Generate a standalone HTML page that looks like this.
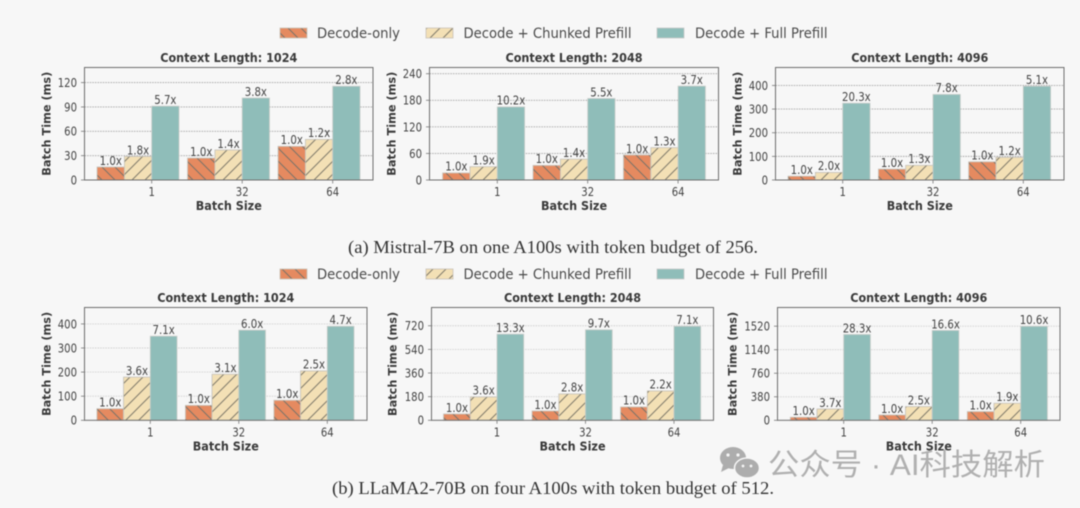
<!DOCTYPE html>
<html lang="en">
<head>
<meta charset="utf-8">
<title>Batch time charts</title>
<style>
html,body{margin:0;padding:0;background:#f7f7f7;width:1080px;height:508px;overflow:hidden}
svg{display:block;filter:blur(.45px)}
text{font-family:"DejaVu Sans","Liberation Sans",sans-serif;fill:#444}
.tick{font-size:12px}
.val{font-size:12px}
.axis{font-size:12.2px;font-weight:bold;fill:#3a3a3a}
.ytitle{font-size:11.3px;font-weight:bold;fill:#3a3a3a}
.title{font-size:12px;font-weight:bold;fill:#3a3a3a}
.leg{font-size:14px;fill:#4a4a4a}
.cap{font-family:"Liberation Serif",serif;font-size:17.5px;fill:#333}
.wm{font-family:"Liberation Sans","Noto Sans CJK SC",sans-serif;font-size:30px;fill:#b0b0b0}
</style>
</head>
<body>
<svg id="fig" xmlns="http://www.w3.org/2000/svg" width="1080" height="508" viewBox="0 0 1080 508">
<defs>
<pattern id="hatch-back" patternUnits="userSpaceOnUse" width="13" height="13">
<path d="M-2 -2L15 15M-2 11L2 15M11 -2L15 2" stroke="#7f7468" stroke-width="1.1" fill="none"/>
</pattern>
<pattern id="hatch-fwd" patternUnits="userSpaceOnUse" width="13" height="13">
<path d="M-2 15L15 -2M-2 2L2 -2M11 15L15 11" stroke="#85806f" stroke-width="1.1" fill="none"/>
</pattern>
</defs>
<rect width="1080" height="508" fill="#f7f7f7"/>
<g id="panels"></g>

<g>
<g><rect x="280" y="28" width="27" height="10" fill="#e58a60"/><rect x="280" y="28" width="27" height="10" fill="url(#hatch-back)" stroke="#c9c2b8" stroke-width=".8"/><text class="leg" x="317" y="38" textLength="83" lengthAdjust="spacingAndGlyphs">Decode-only</text></g>
<g><rect x="426" y="28" width="27" height="10" fill="#f3e0b5"/><rect x="426" y="28" width="27" height="10" fill="url(#hatch-fwd)" stroke="#c9c2b8" stroke-width=".8"/><text class="leg" x="463.5" y="38" textLength="168" lengthAdjust="spacingAndGlyphs">Decode + Chunked Prefill</text></g>
<g><rect x="657" y="28" width="27" height="10" fill="#8fbdb9" stroke="#c9c9c9" stroke-width=".8"/><text class="leg" x="695" y="38" textLength="132.5" lengthAdjust="spacingAndGlyphs">Decode + Full Prefill</text></g>
</g>
<g>
<g><rect x="280" y="269" width="27" height="10" fill="#e58a60"/><rect x="280" y="269" width="27" height="10" fill="url(#hatch-back)" stroke="#c9c2b8" stroke-width=".8"/><text class="leg" x="317" y="279" textLength="83" lengthAdjust="spacingAndGlyphs">Decode-only</text></g>
<g><rect x="426" y="269" width="27" height="10" fill="#f3e0b5"/><rect x="426" y="269" width="27" height="10" fill="url(#hatch-fwd)" stroke="#c9c2b8" stroke-width=".8"/><text class="leg" x="463.5" y="279" textLength="168" lengthAdjust="spacingAndGlyphs">Decode + Chunked Prefill</text></g>
<g><rect x="657" y="269" width="27" height="10" fill="#8fbdb9" stroke="#c9c9c9" stroke-width=".8"/><text class="leg" x="695" y="279" textLength="132.5" lengthAdjust="spacingAndGlyphs">Decode + Full Prefill</text></g>
</g>

<text class="cap" x="348" y="253" textLength="410" lengthAdjust="spacingAndGlyphs">(a) Mistral-7B on one A100s with token budget of 256.</text>
<text class="cap" x="332" y="494" textLength="442" lengthAdjust="spacingAndGlyphs">(b) LLaMA2-70B on four A100s with token budget of 512.</text>

<g>
<g>
<ellipse cx="733" cy="458" rx="13" ry="11" fill="#adadad"/>
<path d="M723 465l-2 7 8-4z" fill="#adadad"/>
<ellipse cx="747" cy="468" rx="12.5" ry="10" fill="#adadad" stroke="#f7f7f7" stroke-width="1.5"/>
<circle cx="728" cy="455" r="1.6" fill="#f7f7f7"/><circle cx="738" cy="455" r="1.6" fill="#f7f7f7"/>
<circle cx="743" cy="466" r="1.4" fill="#f7f7f7"/><circle cx="751" cy="466" r="1.4" fill="#f7f7f7"/>
</g>
<text class="wm" x="768" y="475" textLength="277" lengthAdjust="spacingAndGlyphs">公众号 · AI科技解析</text>
</g>
</svg>

<script>
const categories = ["1", "32", "64"];

const a1Decode = [16, 27, 41.5];
const a1Chunked = [29, 37, 50];
const a1Full = [91, 101, 115.5];
const a1Ticks = [0, 30, 60, 90, 120];
const a1Top = 138.6;
const a1Labels = [["1.0x","1.0x","1.0x"],["1.8x","1.4x","1.2x"],["5.7x","3.8x","2.8x"]];

const a2Decode = [16, 33, 56.5];
const a2Chunked = [30, 47, 73];
const a2Full = [165, 184, 212];
const a2Ticks = [0, 60, 120, 180, 240];
const a2Top = 254;
const a2Labels = [["1.0x","1.0x","1.0x"],["1.9x","1.4x","1.3x"],["10.2x","5.5x","3.7x"]];

const a3Decode = [16, 46, 77];
const a3Chunked = [32, 62, 96];
const a3Full = [325, 362, 397];
const a3Ticks = [0, 100, 200, 300, 400];
const a3Top = 476;
const a3Labels = [["1.0x","1.0x","1.0x"],["2.0x","1.3x","1.2x"],["20.3x","7.8x","5.1x"]];

const b1Decode = [48, 62, 83];
const b1Chunked = [179, 191, 205];
const b1Full = [349, 374, 390];
const b1Ticks = [0, 100, 200, 300, 400];
const b1Top = 468;
const b1Labels = [["1.0x","1.0x","1.0x"],["3.6x","3.1x","2.5x"],["7.1x","6.0x","4.7x"]];

const b2Decode = [48, 71, 102];
const b2Chunked = [178, 201, 224];
const b2Full = [656, 689, 716];
const b2Ticks = [0, 180, 360, 540, 720];
const b2Top = 859;
const b2Labels = [["1.0x","1.0x","1.0x"],["3.6x","2.8x","2.2x"],["13.3x","9.7x","7.1x"]];

const b3Decode = [49, 86, 140];
const b3Chunked = [183, 221, 275];
const b3Full = [1386, 1451, 1518];
const b3Ticks = [0, 380, 760, 1140, 1520];
const b3Top = 1822;
const b3Labels = [["1.0x","1.0x","1.0x"],["3.7x","2.5x","1.9x"],["28.3x","16.6x","10.6x"]];

const NS = "http://www.w3.org/2000/svg";
const root = document.getElementById("panels");

function node(tag, attrs, parent, txt) {
  const n = document.createElementNS(NS, tag);
  for (const k in attrs) n.setAttribute(k, attrs[k]);
  if (txt !== undefined) n.textContent = txt;
  parent.appendChild(n);
  return n;
}

/* text narrowed horizontally, matching the squeezed glyphs of the source figure */
function squeezed(cls, x, y, anchor, sx, parent, txt) {
  return node("text", {class:cls, "text-anchor":anchor, transform:"translate("+x+" "+y+") scale("+sx+" 1)"}, parent, txt);
}

function drawPanel(id, title, box, ticks, top, series, labels) {
  const g = node("g", {}, root);
  
  

  const yScale = v => box.bottom - (v / top) * (box.bottom - box.top);
  const xScale = i => box.first + i * box.step;
  const w = box.bar;

  const t = squeezed("title", (box.left+box.right)/2, box.top-5.5, "middle", .935, g, title);
  
  

  ticks.forEach(v => {
    const y = yScale(v);
    if (v !== 0) {
      const gl = node("line", {x1:box.left, x2:box.right, y1:y, y2:y, stroke:box.grid, "stroke-width":.9, "stroke-dasharray":"1.6 1"}, g);
      
      
    }
    const ym = node("line", {x1:box.left-3.5, x2:box.left, y1:y, y2:y, stroke:"#777", "stroke-width":.8}, g);
    
    
    const tl = squeezed("tick", box.left-7.5, y+4.4, "end", .84, g, String(v));
    
    
  });

  const fills = ["#e58a60", "#f3e0b5", "#8fbdb9"];
  const hatches = ["url(#hatch-back)", "url(#hatch-fwd)", null];
  const names = ["decode-only", "chunked-prefill", "full-prefill"];

  series.forEach((vals, s) => {
    vals.forEach((v, i) => {
      const x = xScale(i) + (s - 2) * w;
      const y = yScale(v);
      const h = box.bottom - y;
      const bar = node("rect", {x:x, y:y, width:w, height:h, fill:fills[s], stroke:"#c9ccc9", "stroke-width":.8}, g);
      
      
      if (hatches[s]) {
        const hb = node("rect", {x:x, y:y, width:w, height:h, fill:hatches[s], stroke:"#c9c2b8", "stroke-width":.6}, g);
        
        
      }
      const lab = squeezed("val", x+w/2, y-2.2, "middle", .85, g, labels[s][i]);
      
      
    });
  });

  const frame = node("rect", {x:box.left, y:box.top, width:box.right-box.left, height:box.bottom-box.top, fill:"none", stroke:"#6e6e6e", "stroke-width":1}, g);
  
  

  categories.forEach((c, i) => {
    const x = xScale(i);
    const tm = node("line", {x1:x, x2:x, y1:box.bottom, y2:box.bottom+3.5, stroke:"#777", "stroke-width":.8}, g);
    
    
    const tl = squeezed("tick", x, box.bottom+16, "middle", .84, g, c);
    
    
  });

  const xt = squeezed("axis", (box.left+box.right)/2, box.bottom+30, "middle", .92, g, "Batch Size");
  
  

  const cy = (box.top + box.bottom) / 2;
  const yt = node("text", {class:"ytitle", x:box.ylab, y:cy, "text-anchor":"middle", transform:"rotate(-90 "+box.ylab+" "+cy+")"}, g, "Batch Time (ms)");
  
  
}

drawPanel("a-1024", "Context Length: 1024",
  {left:84.5, right:373, top:67.5, bottom:180, first:151.7, step:90.5, bar:27.3, ylab:50.5, grid:"#a8a8a8"},
  a1Ticks, a1Top, [a1Decode, a1Chunked, a1Full], a1Labels);
drawPanel("a-2048", "Context Length: 2048",
  {left:429.5, right:718.5, top:67.5, bottom:180, first:497.3, step:90.4, bar:27.3, ylab:395.5, grid:"#a8a8a8"},
  a2Ticks, a2Top, [a2Decode, a2Chunked, a2Full], a2Labels);
drawPanel("a-4096", "Context Length: 4096",
  {left:775.5, right:1064, top:67.5, bottom:180, first:842.7, step:90.3, bar:27.3, ylab:741.5, grid:"#a8a8a8"},
  a3Ticks, a3Top, [a3Decode, a3Chunked, a3Full], a3Labels);
drawPanel("b-1024", "Context Length: 1024",
  {left:84.5, right:367, top:307.5, bottom:420.3, first:150.3, step:88.5, bar:26.7, ylab:50.5, grid:"#d2d2d2"},
  b1Ticks, b1Top, [b1Decode, b1Chunked, b1Full], b1Labels);
drawPanel("b-2048", "Context Length: 2048",
  {left:431.5, right:713.5, top:307.5, bottom:420.3, first:497, step:88.5, bar:26.7, ylab:396.5, grid:"#d2d2d2"},
  b2Ticks, b2Top, [b2Decode, b2Chunked, b2Full], b2Labels);
drawPanel("b-4096", "Context Length: 4096",
  {left:777.5, right:1060, top:307.5, bottom:420.3, first:843.7, step:88.5, bar:26.7, ylab:736.5, grid:"#d2d2d2"},
  b3Ticks, b3Top, [b3Decode, b3Chunked, b3Full], b3Labels);
</script>
</body>
</html>
